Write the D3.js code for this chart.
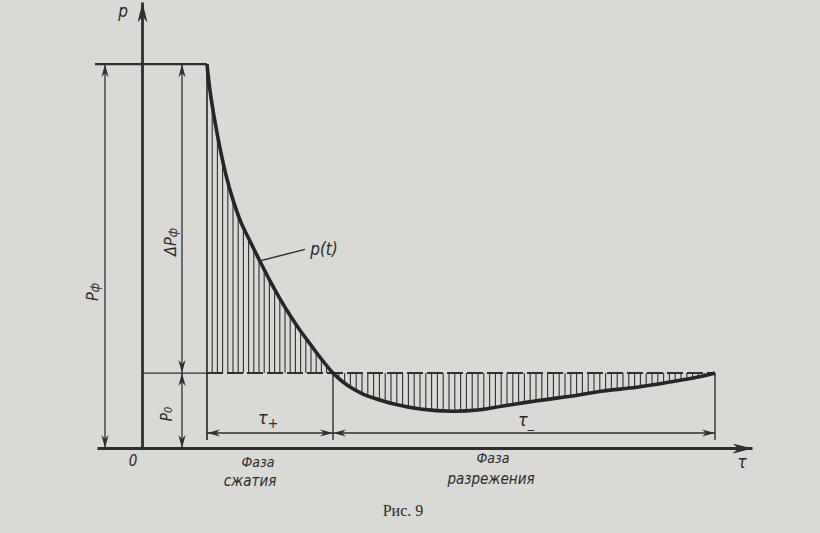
<!DOCTYPE html>
<html><head><meta charset="utf-8">
<script src="https://cdn.jsdelivr.net/npm/d3@7"></script>
<style>
html,body{margin:0;padding:0;background:#d9d9d5;}
svg{display:block;}
text{fill:#2a2a2a;}
.hand{font-family:"Liberation Sans Narrow","DejaVu Sans Condensed","DejaVu Sans",sans-serif;font-style:italic;}
</style></head>
<body>
<script>
// ---- data (time in ms, pressure in atm) ----
const curveTime = [6.5,6.8,7.3,7.8,8.4,9.1,9.9,10.8,11.8,12.8,13.8,14.8,15.8,16.8,17.8,19.1,20.1,21.1,22.1,23.1,25.1,27.8,31.1,33.8,36.1,39.5,42.8,46.1,49.5,52.8,56.1,57.3];
const curvePressure = [5.12,4.77,4.35,4.00,3.64,3.31,3.01,2.76,2.49,2.23,1.99,1.77,1.57,1.39,1.21,1.00,0.88,0.79,0.72,0.67,0.59,0.52,0.49,0.51,0.56,0.63,0.69,0.76,0.81,0.88,0.96,1.00];
const p0 = 1.0;                 // ambient pressure
const pPeak = 5.12;             // peak pressure Pф
const tArrive = 6.5;            // shock arrival
const tCross = 19.1;            // end of compression phase
const tEnd = 57.3;              // end of rarefaction phase
const xDomain = [-4.5, 61];
const yDomain = [0, 5.95];
const labels = {p:"p", zero:"0", tau:"τ", pt:"p(t)", phase1:["Фаза","сжатия"], phase2:["Фаза","разрежения"], caption:"Рис. 9"};

const W = 820, H = 533;
const ink = "#2f2f2f";
const svg = d3.select("body").append("svg").attr("width", W).attr("height", H);
svg.append("rect").attr("width", W).attr("height", H).attr("fill", "#d9d9d5");

const x = d3.scaleLinear().domain(xDomain).range([97, 752]);
const y = d3.scaleLinear().domain(yDomain).range([448, 2]);

// arrow markers
const defs = svg.append("defs");
function marker(id, len, half, notch){
  defs.append("marker").attr("id", id).attr("viewBox", `-${len} -${half} ${len+1} ${half*2}`)
    .attr("refX", 0).attr("refY", 0).attr("markerWidth", len+1).attr("markerHeight", half*2)
    .attr("markerUnits", "userSpaceOnUse").attr("orient", "auto-start-reverse")
    .append("path").attr("d", `M0,0 L-${len},-${half} L-${len-notch},0 L-${len},${half} Z`).attr("fill", ink);
}
marker("axArrow", 20, 5, 6);
marker("dimArrow", 13, 3.6, 4);

// axes through d3.axis (no ticks)
const gx = svg.append("g").attr("transform", `translate(0,${y(0)})`)
  .call(d3.axisBottom(x).tickValues([]).tickSizeOuter(0));
gx.select(".domain").attr("stroke", ink).attr("stroke-width", 2.8).attr("marker-end", "url(#axArrow)");
const gy = svg.append("g").attr("transform", `translate(${x(0)},0)`)
  .call(d3.axisLeft(y).tickValues([]).tickSizeOuter(0));
gy.select(".domain").attr("stroke", ink).attr("stroke-width", 2.8).attr("marker-end", "url(#axArrow)");

const data = curveTime.map((t,i)=>({t, p: curvePressure[i]}));
const curvePath = svg.append("path").datum(data)
  .attr("d", d3.line().x(d=>x(d.t)).y(d=>y(d.p)).curve(d3.curveCatmullRom.alpha(0.5)))
  .attr("fill", "none");
// sample the drawn curve so the hatching meets it exactly
const pathNode = curvePath.node();
const totalLen = pathNode.getTotalLength();
const samples = d3.range(0, totalLen, 0.5).map(l => pathNode.getPointAtLength(l));
const curveYAt = px => {
  let best = samples[0];
  for (const s of samples) if (Math.abs(s.x - px) < Math.abs(best.x - px)) best = s;
  return best.y;
};

// hatching
const hatch = svg.append("g").attr("stroke", ink).attr("stroke-width", 1.1);
const step1 = 0.52;
for (let t = tArrive + step1; t < tCross - 0.2; t += step1){
  hatch.append("line").attr("x1", x(t)).attr("x2", x(t)).attr("y1", curveYAt(x(t))).attr("y2", y(p0));
}
const step2 = 0.58;
for (let t = tCross + step2; t < tEnd - 0.3; t += step2){
  hatch.append("line").attr("x1", x(t)).attr("x2", x(t)).attr("y1", y(p0)).attr("y2", curveYAt(x(t)));
}

// p0 line
svg.append("line").attr("x1", x(0)).attr("x2", x(tArrive)).attr("y1", y(p0)).attr("y2", y(p0))
  .attr("stroke", ink).attr("stroke-width", 1.3);
svg.append("line").attr("x1", x(tArrive)).attr("x2", x(tEnd)).attr("y1", y(p0)).attr("y2", y(p0))
  .attr("stroke", ink).attr("stroke-width", 2).attr("stroke-dasharray", "16,4");

// peak horizontal line
svg.append("line").attr("x1", x(-4.7)).attr("x2", x(tArrive)).attr("y1", y(pPeak)).attr("y2", y(pPeak))
  .attr("stroke", ink).attr("stroke-width", 2.2);

// vertical boundary lines
const dimY = 433, vBottom = 440;
svg.append("line").attr("x1", x(tArrive)).attr("x2", x(tArrive)).attr("y1", y(pPeak)).attr("y2", vBottom)
  .attr("stroke", ink).attr("stroke-width", 1.7);
[tCross, tEnd].forEach(t=>{
  svg.append("line").attr("x1", x(t)).attr("x2", x(t)).attr("y1", y(p0)).attr("y2", vBottom)
    .attr("stroke", ink).attr("stroke-width", 1.4);
});

// curve on top
curvePath.attr("stroke", "#262626").attr("stroke-width", 3.6).attr("stroke-linejoin","round").raise();

// dimension lines
function dim(x1,y1,x2,y2){
  svg.append("line").attr("x1",x1).attr("y1",y1).attr("x2",x2).attr("y2",y2)
    .attr("stroke", ink).attr("stroke-width", 1.3)
    .attr("marker-start","url(#dimArrow)").attr("marker-end","url(#dimArrow)");
}
dim(x(-3.7), y(pPeak), x(-3.7), y(0));            // Pф
dim(x(4.0), y(pPeak), x(4.0), y(p0));             // ΔPф
dim(x(4.0), y(p0), x(4.0), y(0));                 // p0
dim(x(tArrive), dimY, x(tCross), dimY);           // τ+
dim(x(tCross), dimY, x(tEnd), dimY);              // τ-

// leader for p(t)
svg.append("line").attr("x1", x(11.6)).attr("y1", y(2.49)).attr("x2", x(16.3)).attr("y2", y(2.65))
  .attr("stroke", ink).attr("stroke-width", 1.5);

// labels
function txt(s, px, py, size, rot){
  const t = svg.append("text").attr("class","hand").attr("font-size", size)
    .attr("text-anchor","middle").attr("dominant-baseline","middle");
  if (rot) t.attr("transform", `translate(${px},${py}) rotate(${rot})`);
  else t.attr("x", px).attr("y", py);
  t.text(s);
  return t;
}
txt(labels.p, 123, 12, 17);
txt(labels.zero, 133, 461, 15);
txt(labels.tau, 742, 463, 17);
txt(labels.pt, 324, 250, 17);

// Pф rotated
const tp = svg.append("text").attr("class","hand").attr("font-size", 16).attr("text-anchor","middle")
  .attr("dominant-baseline","middle").attr("transform","translate(93,292) rotate(-90)");
tp.append("tspan").text("P");
tp.append("tspan").attr("font-size", 12).attr("dy", 2).text("ф");
const td = svg.append("text").attr("class","hand").attr("font-size", 16).attr("text-anchor","middle")
  .attr("dominant-baseline","middle").attr("transform","translate(171,242) rotate(-90)");
td.append("tspan").text("ΔP");
td.append("tspan").attr("font-size", 12).attr("dy", 2).text("ф");
const t0 = svg.append("text").attr("class","hand").attr("font-size", 15).attr("text-anchor","middle")
  .attr("dominant-baseline","middle").attr("transform","translate(167,414) rotate(-90)");
t0.append("tspan").text("P");
t0.append("tspan").attr("font-size", 11).attr("dy", 2).text("0");

const tplus = svg.append("text").attr("class","hand").attr("font-size", 18).attr("x", 258).attr("y", 424);
tplus.append("tspan").text("τ");
tplus.append("tspan").attr("font-size", 14).attr("dy", 4).text("+");
const tminus = svg.append("text").attr("class","hand").attr("font-size", 18).attr("x", 518).attr("y", 426);
tminus.append("tspan").text("τ");
tminus.append("tspan").attr("font-size", 14).attr("dy", 2).text("_");

txt(labels.phase1[0], 258, 463, 14);
txt(labels.phase1[1], 250, 481, 15);
txt(labels.phase2[0], 493, 459, 14);
txt(labels.phase2[1], 491, 479, 15);

svg.append("text").attr("x", 403).attr("y", 516).attr("text-anchor","middle")
  .attr("font-family","'Liberation Serif','DejaVu Serif',serif").attr("font-size", 16)
  .attr("fill","#2a2a2a").text(labels.caption);
</script>
</body></html>
